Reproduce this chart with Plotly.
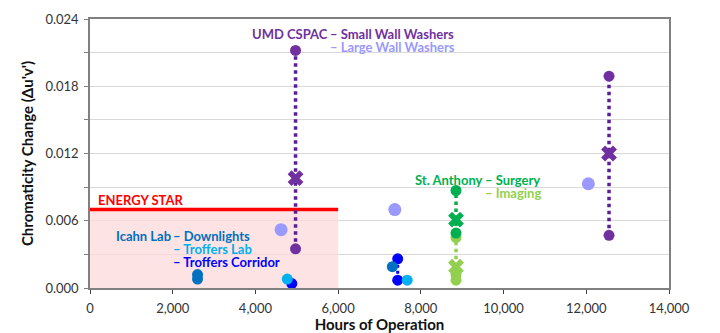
import plotly.graph_objects as go

# ---- data ----
energy_star_hours = [0, 6000]
energy_star_limit = 0.007

umd_small_hours = [4970, 12550]
umd_small_max = [0.0212, 0.0189]
umd_small_min = [0.0035, 0.0047]
umd_small_mean = [0.0098, 0.0120]

umd_large_hours = [4620, 7370, 12050]
umd_large_vals = [0.0052, 0.0070, 0.0093]

surgery_hours = [8850]
surgery_max = [0.0087]
surgery_min = [0.0049]
surgery_mean = [0.0061]

imaging_hours = [8850, 8850, 8850]
imaging_vals = [0.0045, 0.0012, 0.0007]
imaging_mean = [0.0019]

downlights_hours = [2600, 2600, 7310]
downlights_vals = [0.0012, 0.0008, 0.0019]

troffers_lab_hours = [4770, 7670]
troffers_lab_vals = [0.0008, 0.0007]

corridor_hours = [4880, 7440, 7440]
corridor_vals = [0.0004, 0.0026, 0.0007]

x_ticks = [0, 2000, 4000, 6000, 8000, 10000, 12000, 14000]

# ---- colours ----
PURPLE = "#7030A0"
PURPLE_DARK = "#5A1E96"
LAVENDER = "#9999FF"
GREEN = "#00B050"
LGREEN = "#92D050"
DBLUE = "#0070C0"
CYAN = "#00B0F0"
BLUE = "#0000FF"
RED = "#FF0000"

FONT = "Lato"

fig = go.Figure()

# Energy star zone
fig.add_trace(go.Scatter(x=energy_star_hours, y=[energy_star_limit] * 2, mode="lines",
                         line=dict(color=RED, width=3.5), fill="tozeroy",
                         fillcolor="rgba(252,218,218,0.75)", hoverinfo="skip"))

# dotted range lines
for h, lo, hi in zip(umd_small_hours, umd_small_min, umd_small_max):
    fig.add_trace(go.Scatter(x=[h, h], y=[lo, hi], mode="lines",
                             line=dict(color=PURPLE_DARK, width=3.5, dash="dot")))
for h, lo, hi in zip(surgery_hours, surgery_min, surgery_max):
    fig.add_trace(go.Scatter(x=[h, h], y=[lo, hi], mode="lines",
                             line=dict(color=GREEN, width=3.5, dash="dot")))
fig.add_trace(go.Scatter(x=[imaging_hours[0], imaging_hours[0]],
                         y=[min(imaging_vals), max(imaging_vals)], mode="lines",
                         line=dict(color=LGREEN, width=3.5, dash="dot")))
fig.add_trace(go.Scatter(x=[corridor_hours[1], corridor_hours[2]],
                         y=[corridor_vals[1], corridor_vals[2]], mode="lines",
                         line=dict(color=BLUE, width=3, dash="dot")))

# markers
fig.add_trace(go.Scatter(x=umd_large_hours, y=umd_large_vals, mode="markers",
                         marker=dict(color=LAVENDER, size=13)))
fig.add_trace(go.Scatter(x=umd_small_hours * 2, y=umd_small_max + umd_small_min, mode="markers",
                         marker=dict(color=PURPLE, size=11)))
fig.add_trace(go.Scatter(x=umd_small_hours, y=umd_small_mean, mode="markers",
                         marker=dict(color=PURPLE, size=14, symbol="x")))
fig.add_trace(go.Scatter(x=imaging_hours, y=imaging_vals, mode="markers",
                         marker=dict(color=LGREEN, size=11)))
fig.add_trace(go.Scatter(x=imaging_hours[:1], y=imaging_mean, mode="markers",
                         marker=dict(color=LGREEN, size=14, symbol="x")))
fig.add_trace(go.Scatter(x=surgery_hours * 2, y=surgery_max + surgery_min, mode="markers",
                         marker=dict(color=GREEN, size=11)))
fig.add_trace(go.Scatter(x=surgery_hours, y=surgery_mean, mode="markers",
                         marker=dict(color=GREEN, size=14, symbol="x")))
fig.add_trace(go.Scatter(x=corridor_hours, y=corridor_vals, mode="markers",
                         marker=dict(color=BLUE, size=11)))
fig.add_trace(go.Scatter(x=troffers_lab_hours, y=troffers_lab_vals, mode="markers",
                         marker=dict(color=CYAN, size=11)))
fig.add_trace(go.Scatter(x=downlights_hours, y=downlights_vals, mode="markers",
                         marker=dict(color=DBLUE, size=11)))

# ---- text labels ----
def lbl(x, y, text, color, anchor, xshift=0):
    fig.add_annotation(x=x, y=y, text=text, showarrow=False, xanchor=anchor, yanchor="middle",
                       xshift=xshift, borderpad=0,
                       font=dict(family=FONT, size=13, color=color, weight="bold"))

lbl(5779, 0.02266, "UMD CSPAC", PURPLE, "right")
lbl(5779, 0.02266, "– Small Wall Washers", PURPLE, "left")
lbl(5779, 0.0215, "– Large Wall Washers", LAVENDER, "left")

lbl(9526, 0.00964, "St. Anthony", GREEN, "right")
lbl(9526, 0.00964, "– Surgery", GREEN, "left")
lbl(9526, 0.00848, "– Imaging", LGREEN, "left")

lbl(1983, 0.00464, "Icahn Lab", DBLUE, "right")
lbl(1983, 0.00464, "– Downlights", DBLUE, "left")
lbl(1983, 0.00348, "– Troffers Lab", CYAN, "left")
lbl(1983, 0.00232, "– Troffers Corridor", BLUE, "left")

lbl(170, 0.00785, "ENERGY STAR", RED, "left")

fig.update_layout(
    width=720, height=333,
    margin=dict(l=90, r=51, t=19, b=45),
    paper_bgcolor="white", plot_bgcolor="white",
    showlegend=False,
    font=dict(family=FONT, color="#333333"),
    xaxis=dict(range=[0, 14000], tickvals=x_ticks, tickformat=",",
               showgrid=False, zeroline=False, automargin=False,
               ticks="outside", ticklen=4, tickcolor="#404040",
               ticklabelstandoff=4,
               showline=True, linecolor="#808080", linewidth=1.5, mirror=True,
               tickfont=dict(size=13, color="#333333"),
               title=dict(text="Hours of Operation", standoff=2,
                          font=dict(size=15, color="#111111", weight="bold"))),
    yaxis=dict(range=[0, 0.024], dtick=0.006, tickformat=".3f",
               showgrid=True, gridcolor="#D9D9D9", gridwidth=1, zeroline=False,
               automargin=False,
               ticks="outside", ticklen=4, tickcolor="#808080",
               ticklabelstandoff=3,
               minor=dict(dtick=0.003, showgrid=True, gridcolor="#D9D9D9",
                          ticks="outside", ticklen=4, tickcolor="#808080"),
               showline=True, linecolor="#808080", linewidth=1.5, mirror=True,
               tickfont=dict(size=13, color="#333333"),
               title=dict(text="Chromaticity Change (Δu'v')", standoff=8,
                          font=dict(size=15, color="#111111", weight="bold"))),
)

fig.write_html("out.html")
